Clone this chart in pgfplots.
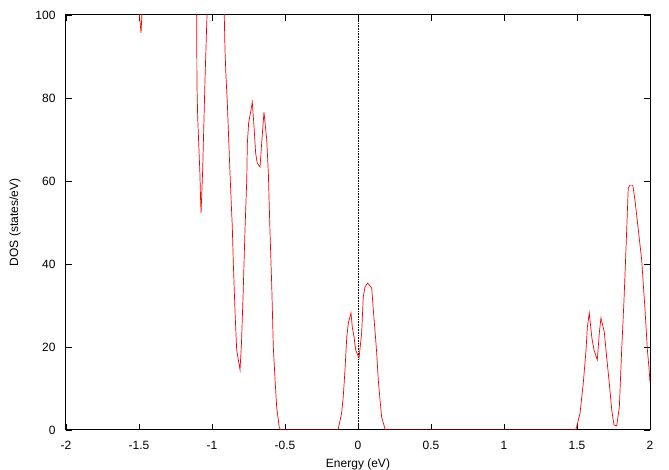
\documentclass[border=0pt]{standalone}
\usepackage{pgfplots}
\pgfplotsset{compat=1.18}
\usepackage{fontspec}
\setmainfont{Liberation Sans}
\pgfplotstableread{
x y
-2.000 130
-1.800 140
-1.600 125
-1.520 110
-1.500 101
-1.486 95.7
-1.479 101
-1.460 112
-1.300 150
-1.150 130
-1.110 108
-1.105 100
-1.103 83
-1.098 75.4
-1.091 69
-1.083 62
-1.078 55.4
-1.075 52.3
-1.064 62.6
-1.048 84.3
-1.036 98
-1.030 104
-1.000 140
-0.950 130
-0.920 105
-0.916 100
-0.911 91.6
-0.904 85
-0.895 78.8
-0.888 72.3
-0.881 65.8
-0.872 57.8
-0.861 49
-0.854 40.2
-0.842 28.2
-0.831 19.3
-0.808 14.5
-0.798 21
-0.786 33.7
-0.774 48.2
-0.762 60.2
-0.758 69
-0.749 74
-0.733 77.1
-0.724 79
-0.712 73
-0.701 66.7
-0.690 64.3
-0.671 63.4
-0.660 69
-0.644 76.6
-0.625 69.9
-0.614 61.9
-0.603 48
-0.591 35
-0.580 20
-0.568 12
-0.557 5.5
-0.540 0.8
-0.530 0
-0.140 0
-0.135 0.3
-0.112 4.1
-0.101 8
-0.089 14.5
-0.077 22.4
-0.066 25.8
-0.048 28.2
-0.039 24.8
-0.027 22.4
-0.016 19.3
0.007 17.3
0.025 23.4
0.036 32
0.048 34.5
0.066 35.4
0.094 34.2
0.105 28.9
0.116 24.1
0.128 18.6
0.139 12
0.151 7.2
0.162 3.1
0.185 0.3
0.190 0
1.490 0
1.498 0.8
1.521 4.1
1.543 11.3
1.562 19.3
1.571 24.8
1.584 28.2
1.601 22.4
1.616 19.3
1.639 16.9
1.653 23.4
1.664 27
1.687 23.6
1.703 17.6
1.721 11.3
1.738 4.8
1.753 1.2
1.772 1
1.790 5.5
1.806 19.3
1.822 31.3
1.836 44.1
1.851 58.3
1.863 59
1.882 59
1.897 55.4
1.920 48.2
1.943 41
1.966 28.9
1.982 19.3
1.993 15
2.000 11.5
}\dostable
\begin{document}
\begin{tikzpicture}[x=1pt,y=1pt]
\useasboundingbox (0,0) rectangle (669,470);
\begin{axis}[
  at={(66pt,40pt)}, anchor=south west,
  width=584pt, height=415pt, scale only axis,
  xmin=-2, xmax=2, ymin=0, ymax=100,
  xtick={-2,-1.5,-1,-0.5,0,0.5,1,1.5,2},
  xticklabels={-2,-1.5,-1,-0.5,0,0.5,1,1.5,2},
  ytick={0,20,40,60,80,100},
  yticklabels={0,20,40,60,80,100},
  tick align=inside, major tick length=6pt,
  tick style={black, line width=0.9pt},
  axis line style={black, line width=1pt},
  tick label style={font=\fontsize{12}{14}\selectfont},
  label style={font=\fontsize{12}{14}\selectfont},
  xticklabel style={yshift=-8pt},
  yticklabel style={xshift=-7pt},
  xlabel={Energy (eV)},
  ylabel={DOS (states/eV)},
  xlabel style={yshift=-2pt},
  ylabel style={yshift=8pt},
  clip=true,
]
\addplot[black, densely dotted, line width=0.6pt] coordinates {(0,0) (0,100)};
\addplot[red, line width=0.7pt] table[x=x,y=y] {\dostable};
\end{axis}
\end{tikzpicture}
\end{document}
